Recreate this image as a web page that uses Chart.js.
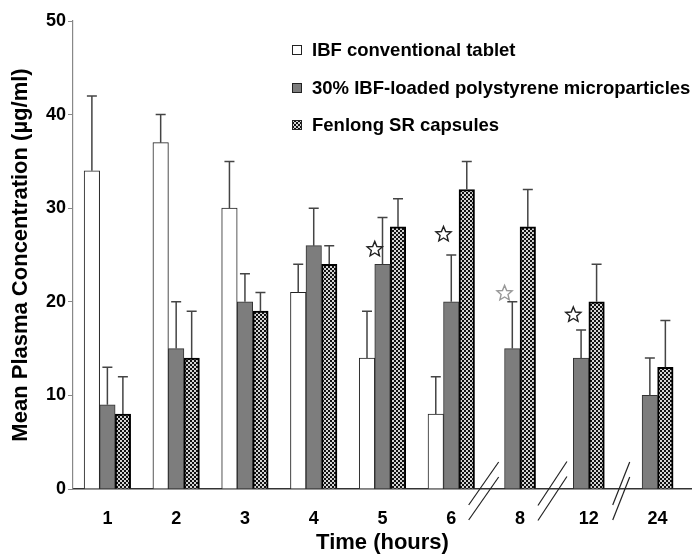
<!DOCTYPE html>
<html>
<head>
<meta charset="utf-8">
<script src="https://cdn.jsdelivr.net/npm/chart.js@4/dist/chart.umd.min.js"></script>
<style>
html,body{margin:0;padding:0;background:#fff;}
#wrap{width:692px;height:554px;position:relative;}
</style>
</head>
<body>
<div id="wrap"><canvas id="c" width="692" height="554"></canvas></div>
<script>
// ---- data ----
const timeLabels = ['1','2','3','4','5','6','8','12','24'];
const tabletMean = [34, 37, 30, 21, 14, 8, null, null, null];
const tabletSD   = [8, 3, 5, 3, 5, 4, null, null, null];
const microMean  = [9, 15, 20, 26, 24, 20, 15, 14, 10];
const microSD    = [4, 5, 3, 4, 5, 5, 5, 3, 4];
const fenlongMean = [8, 14, 19, 24, 28, 32, 28, 20, 13];
const fenlongSD   = [4, 5, 2, 2, 3, 3, 4, 4, 5];
const starValues  = [null, null, null, null, 25.6, 27.2, 20.9, 18.6, null];
const seriesNames = ['IBF conventional tablet', '30% IBF-loaded polystyrene microparticles', 'Fenlong SR capsules'];
const yTicks = [0, 10, 20, 30, 40, 50];
const breakAfter = [5, 6, 7]; // axis breaks between these category indices and the next

// ---- pattern for Fenlong bars ----
function makePattern() {
  const p = document.createElement('canvas');
  p.width = 4; p.height = 4;
  const g = p.getContext('2d');
  g.fillStyle = '#111';
  g.fillRect(0, 0, 4, 4);
  g.fillStyle = '#d4d4d4';
  g.fillRect(0, 0, 2, 2);
  g.fillRect(2, 2, 2, 2);
  return document.getElementById('c').getContext('2d').createPattern(p, 'repeat');
}
const checker = makePattern();
const fills = ['#ffffff', '#7d7d7d', checker];
const borders = ['#222', '#333', '#000'];
const borderW = [1, 1, 2];
const sds = [tabletSD, microSD, fenlongSD];

const FONT = "'Liberation Sans', Arial, sans-serif";

const errorBars = {
  id: 'errorBars',
  afterDatasetsDraw(chart) {
    const ctx = chart.ctx, y = chart.scales.y;
    ctx.save();
    ctx.strokeStyle = '#444';
    ctx.lineWidth = 1.5;
    chart.data.datasets.forEach((ds, di) => {
      const meta = chart.getDatasetMeta(di);
      meta.data.forEach((bar, i) => {
        const v = ds.data[i], sd = sds[di][i];
        if (v == null || sd == null) return;
        const top = y.getPixelForValue(v + sd);
        const base = y.getPixelForValue(v);
        ctx.beginPath();
        ctx.moveTo(bar.x, base);
        ctx.lineTo(bar.x, top);
        ctx.moveTo(bar.x - 5, top);
        ctx.lineTo(bar.x + 5, top);
        ctx.stroke();
      });
    });
    ctx.restore();
  }
};

function starPath(ctx, cx, cy, ro, ri) {
  ctx.beginPath();
  for (let k = 0; k < 10; k++) {
    const r = k % 2 === 0 ? ro : ri;
    const a = -Math.PI / 2 + k * Math.PI / 5;
    const px = cx + r * Math.cos(a), py = cy + r * Math.sin(a);
    if (k === 0) ctx.moveTo(px, py); else ctx.lineTo(px, py);
  }
  ctx.closePath();
}

const stars = {
  id: 'stars',
  afterDatasetsDraw(chart) {
    const ctx = chart.ctx, y = chart.scales.y;
    const meta = chart.getDatasetMeta(1);
    ctx.save();
    ctx.lineWidth = 1.4;
    starValues.forEach((v, i) => {
      if (v == null) return;
      const bar = meta.data[i];
      const cx = bar.x - bar.width * 0.5;
      const cy = y.getPixelForValue(v);
      starPath(ctx, cx, cy, 8, 3.6);
      ctx.fillStyle = '#fff';
      ctx.fill();
      ctx.strokeStyle = i === 6 ? '#999' : '#222';
      ctx.stroke();
    });
    ctx.restore();
  }
};

const breaks = {
  id: 'breaks',
  afterDraw(chart) {
    const ctx = chart.ctx, x = chart.scales.x, ay = chart.chartArea.bottom;
    const slopes = [[30, 43], [29, 44], [17, 43]];
    ctx.save();
    ctx.strokeStyle = '#222';
    ctx.lineWidth = 1.2;
    breakAfter.forEach((idx, k) => {
      const mx = (x.getPixelForValue(idx) + x.getPixelForValue(idx + 1)) / 2 - 2;
      const [dx, dy] = slopes[k];
      [-5.5, 9.5].forEach(off => {
        ctx.beginPath();
        ctx.moveTo(mx - dx / 2, ay + off + dy / 2);
        ctx.lineTo(mx + dx / 2, ay + off - dy / 2);
        ctx.stroke();
      });
    });
    ctx.restore();
  }
};

const legendPlugin = {
  id: 'customLegend',
  afterDraw(chart) {
    const ctx = chart.ctx;
    const x0 = 292, rows = [50, 88, 125];
    ctx.save();
    ctx.font = 'bold 18.5px ' + FONT;
    ctx.textBaseline = 'middle';
    ctx.textAlign = 'left';
    seriesNames.forEach((name, i) => {
      const cy = rows[i];
      ctx.fillStyle = fills[i];
      ctx.fillRect(x0, cy - 5, 10, 10);
      ctx.strokeStyle = '#222';
      ctx.lineWidth = 1;
      ctx.strokeRect(x0 + 0.5, cy - 4.5, 9, 9);
      ctx.fillStyle = '#000';
      ctx.fillText(name, x0 + 20, cy + 1);
    });
    ctx.restore();
  }
};

new Chart(document.getElementById('c'), {
  type: 'bar',
  data: {
    labels: timeLabels,
    datasets: [tabletMean, microMean, fenlongMean].map((d, i) => ({
      label: seriesNames[i],
      data: d,
      backgroundColor: fills[i],
      borderColor: borders[i],
      borderWidth: borderW[i],
      barThickness: 15.5,
      skipNull: true
    }))
  },
  options: {
    responsive: false,
    animation: false,
    layout: { padding: { top: 21, right: 0, left: 0, bottom: 0 } },
    plugins: { legend: { display: false }, tooltip: { enabled: false } },
    scales: {
      x: {
        grid: { display: false },
        border: { display: true, color: '#333', width: 1.5 },
        ticks: { color: '#000', font: { family: FONT, size: 18, weight: 'bold' }, padding: 11 },
        title: { display: true, text: 'Time (hours)', color: '#000', font: { family: FONT, size: 22, weight: 'bold', lineHeight: 1 }, padding: { top: 0, bottom: 0 } },
        afterFit(s) { s.height = 65; }
      },
      y: {
        min: 0, max: 50,
        afterBuildTicks(s) { s.ticks = yTicks.map(v => ({ value: v })); },
        grid: { display: true, drawOnChartArea: false, drawTicks: true, tickLength: 5, color: '#888' },
        border: { display: true, color: '#888', width: 1.2 },
        ticks: { color: '#000', font: { family: FONT, size: 18, weight: 'bold' }, padding: 2 },
        title: { display: true, text: 'Mean Plasma Concentration (µg/ml)', color: '#000', font: { family: FONT, size: 22, weight: 'bold', lineHeight: 1 }, padding: { top: 9.5, bottom: 0 } },
        afterFit(s) { s.width = 73; }
      }
    }
  },
  plugins: [errorBars, stars, breaks, legendPlugin]
});
</script>
</body>
</html>
